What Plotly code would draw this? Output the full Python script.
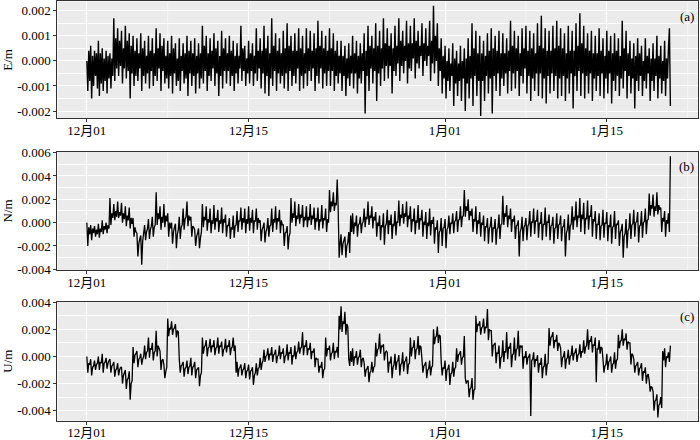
import pandas as pd
import plotly.graph_objects as go
from plotly.subplots import make_subplots

# Values in units of 1e-4 m; one inner list per day starting 2019-12-01, one read every 2 h.
E_days = [
    [0, -12, 4, -8, 6, -15, 2, -10, 4, -6, 3, -11],
    [8, -14, 3, -9, 5, -12, 1, -8, 4, -13, 2, -7],
    [3, -11, 1, -6, 17, -8, 9, -3, 13, -6, 8, -2],
    [12, -9, 5, -3, 14, -7, 8, -4, 11, -15, 6, -5],
    [10, -10, 4, -6, 9, -8, 3, -3, 11, -12, 5, -6],
    [8, -9, 2, -5, 10, -11, 4, -4, 9, -10, 3, -6],
    [13, -8, 5, -3, 11, -12, 6, -4, 9, -9, 2, -7],
    [8, -11, 3, -6, 10, -13, 5, -5, 7, -10, 1, -8],
    [9, -12, 2, -4, 7, -9, 3, -7, 10, -14, 4, -5],
    [8, -10, 3, -6, 9, -13, 2, -5, 7, -11, 3, -7],
    [14, -9, 6, -4, 10, -12, 3, -6, 9, -8, 4, -3],
    [11, -10, 5, -5, 8, -14, 2, -6, 12, -11, 5, -4],
    [9, -9, 3, -4, 10, -10, 4, -6, 8, -12, 2, -5],
    [7, -9, 2, -3, 14, -8, 5, -4, 6, -10, 1, -5],
    [8, -9, 3, -4, 7, -10, 2, -5, 13, -8, 4, -3],
    [9, -11, 4, -5, 14, -13, 5, -6, 10, -14, 3, -7],
    [17, -10, 6, -4, 11, -12, 4, -5, 9, -9, 3, -6],
    [12, -11, 5, -5, 15, -12, 6, -4, 10, -10, 4, -6],
    [11, -9, 4, -3, 13, -12, 5, -6, 10, -11, 3, -5],
    [13, -10, 5, -4, 12, -8, 4, -3, 11, -12, 5, -6],
    [16, -9, 6, -3, 12, -11, 5, -5, 10, -10, 4, -4],
    [13, -10, 5, -4, 11, -12, 4, -6, 8, -9, 2, -5],
    [8, -12, 2, -6, 6, -14, 1, -7, 7, -10, 2, -5],
    [10, -11, 3, -5, 8, -13, 2, -7, 7, -9, 3, -4],
    [11, -21, 4, -6, 14, -12, 6, -3, 10, -9, 5, -4],
    [15, -16, 6, -5, 12, -10, 5, -3, 17, -8, 7, -2],
    [13, -7, 6, -2, 11, -13, 5, -4, 14, -6, 6, -1],
    [17, -8, 8, -2, 12, -5, 6, 0, 16, -9, 7, -3],
    [14, -4, 7, 1, 17, -7, 8, -1, 12, -3, 6, 2],
    [15, -6, 7, 0, 13, -2, 6, 2, 16, -8, 8, -1],
    [22, -5, 10, 0, 15, -10, 5, -4, 9, -13, 2, -7],
    [6, -15, 0, -8, 5, -12, -1, -6, 7, -18, 1, -9],
    [4, -14, -1, -8, 6, -16, 0, -7, 5, -20, 1, -9],
    [9, -15, 2, -7, 15, -18, 5, -6, 12, -14, 3, -8],
    [10, -22, 3, -8, 8, -16, 2, -6, 11, -13, 4, -7],
    [13, -21, 5, -6, 10, -12, 4, -5, 12, -14, 3, -7],
    [11, -10, 3, -5, 9, -13, 4, -4, 16, -12, 6, -5],
    [12, -11, 5, -4, 10, -14, 3, -6, 13, -9, 5, -3],
    [14, -13, 4, -6, 12, -16, 5, -7, 11, -12, 3, -5],
    [15, -14, 6, -5, 18, -15, 5, -7, 13, -17, 4, -6],
    [12, -13, 4, -5, 14, -12, 5, -6, 16, -15, 6, -7],
    [13, -14, 5, -6, 11, -16, 3, -7, 14, -13, 4, -5],
    [12, -19, 4, -6, 15, -12, 6, -4, 19, -14, 7, -5],
    [14, -15, 5, -6, 11, -13, 4, -5, 12, -16, 3, -7],
    [10, -12, 3, -6, 13, -14, 4, -5, 9, -15, 2, -7],
    [12, -13, 4, -5, 10, -17, 3, -8, 11, -12, 4, -6],
    [9, -14, 2, -7, 16, -11, 5, -4, 12, -15, 3, -6],
    [8, -13, 1, -7, 7, -19, 2, -8, 9, -12, 3, -6],
    [6, -14, 0, -8, 9, -11, 2, -5, 5, -16, 1, -8],
    [7, -12, 1, -6, 10, -15, 2, -7, 6, -13, 0, -8],
    [8, -14, 1, -7, 5, 13, -18],
]

N_days = [
    [0, -20, -4, -10, -2, -15, -5, -9, -3, -12, -6, -10],
    [-1, -13, -5, -8, 2, -10, -3, -6, 0, -9, -2, -5],
    [21, -2, 8, 4, 16, 2, 10, 5, 18, 4, 9, 6],
    [17, 0, 8, 3, 14, -3, 6, 2, 13, -5, 4, -1],
    [4, -12, -4, -8, -9, -29, -18, -14, -11, -36, -16, -9],
    [-2, -15, -8, -5, 3, -14, -6, -3, 5, -12, -4, -2],
    [26, -2, 8, 3, 14, -6, 5, 0, 16, -4, 6, 1],
    [8, -12, 0, -5, 0, -18, -8, -4, -1, -22, -10, -6],
    [5, -14, -4, -2, 12, -6, 3, 5, 18, -3, 6, 2],
    [5, -12, -3, -4, -6, -20, -12, -9, -5, -22, -13, -8],
    [16, -4, 5, 2, 14, -7, 3, 0, 12, -9, 2, -1],
    [15, -6, 4, 1, 11, -8, 2, -1, 13, -9, 3, 0],
    [7, -12, -2, -3, 4, -14, -4, -6, 6, -13, -3, -2],
    [10, -8, 2, 1, 13, -6, 4, 0, 12, -9, 3, -1],
    [14, -7, 4, 0, 11, -9, 2, 1, 12, -6, 4, 0],
    [2, -16, -6, -4, 0, -17, -8, -5, 4, -12, -3, -2],
    [12, -8, 3, 0, 14, -6, 4, 1, 11, -9, 2, -2],
    [-2, -20, -9, -8, -3, -23, -12, -9, 21, 0, 8, 4],
    [18, -3, 6, 3, 16, -1, 7, 4, 15, -4, 5, 2],
    [14, -4, 5, 2, 16, -2, 6, 3, 13, -6, 4, 1],
    [13, -7, 3, 1, 15, -5, 4, 2, 12, -8, 3, 0],
    [28, 9, 18, 14, 26, 10, 17, 15, 37, 12, -30, -18],
    [-10, -28, -18, -15, -12, -30, -20, -17, -8, -26, 6, -8],
    [8, -10, 0, -3, 6, -12, -2, -1, 5, -9, -1, 1],
    [12, -4, 5, 3, 18, -2, 6, 4, 14, -5, 5, 2],
    [9, -12, 0, -3, 6, -15, -2, -4, 8, -19, -3, -1],
    [11, -10, 2, -2, 7, -14, -1, -3, 10, -11, 1, 0],
    [19, -3, 7, 4, 16, -1, 8, 5, 18, -4, 6, 3],
    [14, -8, 3, 1, 12, -10, 2, 0, 15, -6, 4, 2],
    [11, -12, 1, -2, 9, -14, 0, -3, 12, -11, 2, -1],
    [5, -18, -4, -6, 2, -26, -8, -7, 4, -20, -5, -4],
    [3, -22, -6, -4, 6, -10, 0, -1, 8, -9, 1, 2],
    [10, -8, 2, 3, 14, -4, 5, 6, 28, 5, 14, 10],
    [20, 2, 10, 6, 12, -8, 3, 1, 14, -10, 2, -1],
    [9, -12, 0, -2, 6, -16, -3, -4, 4, -18, -5, -3],
    [5, -17, -4, -5, 3, -19, -6, -4, 7, -14, -2, -1],
    [23, -2, 8, 5, 15, -4, 6, 3, 12, -8, 3, 1],
    [6, -14, -3, -2, 2, -29, -8, -5, 5, -16, -4, -2],
    [4, -15, -3, -1, 10, -12, 1, 0, 12, -10, 2, 1],
    [11, -13, 0, -1, 9, -15, -1, -2, 13, -12, 1, 0],
    [7, -15, -3, -2, 5, -18, -5, -4, 8, -14, -2, -1],
    [6, -16, -4, -3, 3, -29, -9, -6, 7, -15, -3, -1],
    [14, -6, 5, 2, 18, -4, 6, 4, 21, -8, 7, 3],
    [17, -10, 4, 3, 19, -6, 6, 5, 15, -12, 3, 1],
    [10, -14, -1, -2, 8, -15, -3, -2, 11, -13, 0, -1],
    [9, -16, -2, -4, 7, -18, -4, -3, 10, -14, -1, -2],
    [2, -20, -8, -6, -1, -30, -12, -9, 3, -22, -7, -5],
    [8, -14, -2, -1, 11, -12, 0, 1, 9, -17, -3, -2],
    [10, -13, 0, 1, 12, -10, 2, 3, 25, 6, 15, 12],
    [24, 5, 14, 10, 26, 7, 15, 11, 13, -8, 4, 1],
    [10, -12, 2, -1, 8, -8, 57],
]

U_days = [
    [0, -12, -5, -6, -2, -14, -8, -7, -3, -10, -6, -5],
    [0, -10, -4, -5, 2, -12, -5, -4, -1, -9, -5, -3],
    [-2, -12, -7, -6, -4, -15, -10, -9, -5, -14, -10, -8],
    [-8, -20, -14, -12, -10, -24, -17, -16, -11, -32, -20, -18],
    [7, -5, 1, 2, 4, -8, -2, -1, 2, -6, -2, 0],
    [8, -2, 3, 4, 14, -1, 6, 5, 10, -3, 3, 4],
    [19, 0, 8, 6, 4, -10, -3, -2, -6, -16, -11, -8],
    [28, 15, 21, 20, 26, 16, 20, 21, 24, 14, 19, 18],
    [-2, -12, -7, -6, -4, -15, -9, -8, -3, -13, -8, -7],
    [-1, -14, -8, -7, -4, -16, -10, -9, -8, -22, -14, -12],
    [14, 2, 7, 8, 12, 0, 6, 7, 13, 3, 8, 7],
    [12, 1, 6, 7, 14, 2, 8, 7, 11, 0, 5, 6],
    [13, 3, 8, 7, 12, 1, 6, 7, 14, 4, 8, -12],
    [-4, -15, -9, -8, -6, -14, -10, -9, -5, -16, -11, -10],
    [-6, -17, -11, -10, -8, -21, -14, -12, -5, -14, -9, -8],
    [-1, -10, -5, -3, 5, -4, 0, 1, 6, -3, 2, 1],
    [7, -4, 1, 2, 5, -5, 0, 1, 8, -2, 3, 2],
    [6, -5, 0, 1, 9, -3, 3, 2, 7, -6, 1, 0],
    [8, -2, 3, 4, 11, 2, 6, 7, 18, 1, 8, 7],
    [12, 1, 6, 5, 10, -2, 4, 3, 6, -8, -1, -2],
    [-2, -12, -7, -8, -4, -16, -10, -9, 14, 0, 6, 5],
    [8, -3, 2, 3, 10, -2, 4, 3, 7, -1, 30, 20],
    [37, 18, 26, 24, 33, 16, 24, 22, -2, -7, 4, -4],
    [6, -7, 0, -1, 4, -6, -1, 0, 5, -8, -2, -1],
    [-5, -15, -10, -9, -7, -19, -12, -11, -4, -12, -8, -7],
    [10, 0, 5, 6, 17, 2, 8, 7, 9, -3, 3, 4],
    [3, -12, -4, -5, 0, -16, -8, -6, 2, -10, -4, -3],
    [1, -14, -6, -5, 3, -11, -4, -3, 0, -13, -6, -5],
    [14, 0, 6, 7, 12, -2, 5, 6, 15, 1, 8, 7],
    [-2, -12, -7, -6, -4, -16, -10, -9, -3, -14, -8, -7],
    [20, 9, 14, 15, 22, 10, 16, 15, -4, -14, -8, -9],
    [-3, -18, -10, -9, -6, -21, -13, -12, -4, -15, -9, -8],
    [6, -4, 1, 2, 4, -6, -1, 0, 15, -16, -20, -18],
    [-18, -30, -24, -23, -16, -32, -25, -24, 30, 18, 24, 23],
    [26, 16, 21, 22, 28, 17, 22, 21, 35, 12, 20, 19],
    [19, 0, 8, 9, 10, -5, 3, 2, 8, -9, -1, 0],
    [12, -4, 4, 3, 18, -2, 7, 6, 10, -8, 1, 2],
    [14, -3, 5, 6, 19, 0, 8, 7, 8, -9, 0, -1],
    [4, -6, -1, 0, 2, -44, -3, -2, 3, -8, -2, -3],
    [1, -12, -5, -6, -1, -16, -8, -7, 2, -14, -6, -5],
    [21, 8, 14, 15, 18, 6, 12, 11, 16, 4, 10, 9],
    [6, -8, -1, 0, 4, -9, -2, -1, 5, -6, 0, 1],
    [8, -3, 2, 3, 6, -4, 1, 2, 9, -1, 4, 3],
    [12, 2, 7, 8, 20, 5, 12, 11, 15, 3, 9, 8],
    [14, -19, 6, 5, 12, 2, 7, 6, -2, -12, -7, -6],
    [2, -10, -4, -3, 0, -12, -6, -5, 3, -9, -3, -2],
    [16, 6, 11, 12, 20, 8, 13, 12, 17, 5, 11, 10],
    [10, -6, 2, 1, -2, -12, -7, -6, -4, -14, -9, -8],
    [-5, -18, -11, -12, -8, -20, -14, -13, -18, -26, -22, -23],
    [-26, -40, -33, -32, -28, -45, -36, -35, -30, -38, 4, -3],
    [6, -8, 0, -1, 3, -4, 8],
]

ylabels = ["E/m", "N/m", "U/m"]
panel_tags = ["(a)", "(b)", "(c)"]
x_tick_dates = ["2019-12-01", "2019-12-15", "2020-01-01", "2020-01-15"]
x_tick_text = ["12月01", "12月15", "1月01", "1月15"]
x_minor_dates = ["2019-12-08", "2019-12-22", "2020-01-08", "2020-01-22"]
y_ticks = [
    [-0.002, -0.001, 0.0, 0.001, 0.002],
    [-0.004, -0.002, 0.0, 0.002, 0.004, 0.006],
    [-0.004, -0.002, 0.0, 0.002, 0.004],
]
y_ranges = [[-0.00229, 0.00237], [-0.00406, 0.00608], [-0.00474, 0.00404]]
line_widths = [1.4, 1.3, 1.3]

series = [E_days, N_days, U_days]

FONT = "Liberation Serif, Times New Roman, Noto Sans CJK SC, serif"

fig = make_subplots(rows=3, cols=1)
domains_y = [[0.7311, 0.9966], [0.3864, 0.6552], [0.0439, 0.3143]]
start = pd.Timestamp("2019-12-01")

for i, days in enumerate(series):
    t, y = [], []
    for d, day in enumerate(days):
        for j, v in enumerate(day):
            t.append(start + pd.Timedelta(days=d, hours=2 * j))
            y.append(v * 1e-4)
    fig.add_trace(go.Scatter(x=t, y=y, mode="lines",
                             line=dict(color="black", width=line_widths[i], simplify=False),
                             showlegend=False, hoverinfo="skip"),
                  row=i + 1, col=1)
    yt = y_ticks[i]
    step = yt[1] - yt[0]
    lo, hi = y_ranges[i]
    minor_y = [(yt[k] + yt[k + 1]) / 2 for k in range(len(yt) - 1)]
    if yt[0] - step / 2 > lo:
        minor_y = [yt[0] - step / 2] + minor_y
    if yt[-1] + step / 2 < hi:
        minor_y = minor_y + [yt[-1] + step / 2]
    xa = "xaxis" if i == 0 else f"xaxis{i+1}"
    ya = "yaxis" if i == 0 else f"yaxis{i+1}"
    xref = "x" if i == 0 else f"x{i+1}"
    fig.layout[xa].update(
        domain=[0.0821, 0.9969],
        range=["2019-11-28 11:00", "2020-01-22 21:00"],
        tickmode="array", tickvals=x_tick_dates, ticktext=x_tick_text,
        showgrid=True, gridcolor="white", gridwidth=1.2,
        ticks="",
        minor=dict(tickmode="array", tickvals=x_tick_dates, showgrid=False,
                   ticks="outside", ticklen=3, tickcolor="#333333", tickwidth=1),
        showline=True, linecolor="#333333", linewidth=1, mirror=True,
        zeroline=False,
        tickfont=dict(family=FONT, size=13, color="black"),
        automargin=False,
    )
    for md in x_minor_dates:
        fig.add_shape(type="line", xref=xref, yref=f"{'y' if i == 0 else 'y' + str(i+1)} domain",
                      x0=md, x1=md, y0=0, y1=1, layer="below",
                      line=dict(color="white", width=0.6))
    fig.layout[ya].update(
        domain=domains_y[i],
        range=y_ranges[i],
        tickmode="array", tickvals=yt, ticktext=[f"{v:.3f}" for v in yt],
        showgrid=True, gridcolor="white", gridwidth=1.2,
        minor=dict(tickmode="array", tickvals=minor_y, showgrid=True,
                   gridcolor="white", gridwidth=0.6, ticks=""),
        ticks="outside", ticklen=3, tickcolor="#333333", tickwidth=1,
        showline=True, linecolor="#333333", linewidth=1, mirror=True,
        zeroline=False,
        tickfont=dict(family=FONT, size=13, color="black"),
        title=dict(text=ylabels[i], font=dict(family=FONT, size=13, color="black"), standoff=5),
        automargin=False,
    )
    fig.add_annotation(text=panel_tags[i], xref="paper", yref="paper",
                       x=0.994, y=domains_y[i][1] - 0.012, xanchor="right", yanchor="top",
                       showarrow=False, font=dict(family=FONT, size=13, color="black"))

fig.update_layout(
    width=700, height=440,
    margin=dict(l=0, r=0, t=0, b=0),
    paper_bgcolor="white",
    plot_bgcolor="#EBEBEB",
)

fig.write_html("out.html", config={"displayModeBar": False},
               post_script="document.body.style.margin='0';document.body.style.padding='0';"
                           "document.body.style.overflow='hidden';")
